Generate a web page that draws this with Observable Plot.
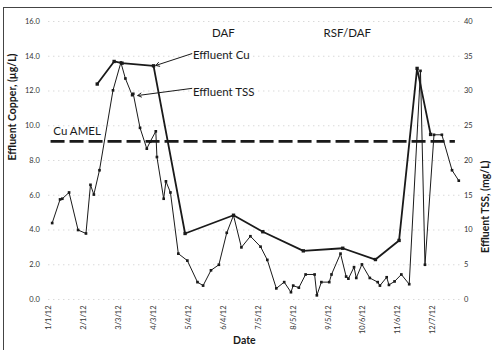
<!DOCTYPE html>
<html>
<head>
<meta charset="utf-8">
<script src="https://cdn.jsdelivr.net/npm/d3@7"></script>
<script src="https://cdn.jsdelivr.net/npm/@observablehq/plot@0.6"></script>
<style>
  html, body { margin: 0; padding: 0; background: #fff; }
  #wrap { position: relative; width: 493px; height: 350px; overflow: hidden; }
  #border { position: absolute; left: 3px; top: 7px; width: 488px; height: 350px;
            border-top: 1px solid #444; border-left: 1px solid #444; pointer-events: none; }
</style>
</head>
<body>
<div id="wrap"><div id="border"></div></div>
<script>
// ---- data ----
const tickLabels = ["1/1/12","2/1/12","3/3/12","4/3/12","5/4/12","6/4/12","7/5/12","8/5/12","9/5/12","10/6/12","11/6/12","12/7/12"];
const copperTicks = [0, 2, 4, 6, 8, 10, 12, 14, 16];

const cuDates = ["2012-02-13","2012-02-28","2012-03-06","2012-04-03","2012-05-01","2012-06-13","2012-07-09","2012-08-14","2012-09-18","2012-10-17","2012-11-07","2012-11-23","2012-12-05"];
const cuValues = [12.4, 13.7, 13.6, 13.45, 3.8, 4.85, 3.9, 2.8, 2.95, 2.3, 3.4, 13.3, 9.5];

const tssDates = ["2012-01-04","2012-01-11","2012-01-13","2012-01-19","2012-01-27","2012-02-03","2012-02-07","2012-02-10","2012-02-15","2012-02-27",
  "2012-03-05","2012-03-09","2012-03-15","2012-03-16","2012-03-22","2012-03-28","2012-03-31","2012-04-05","2012-04-06","2012-04-12",
  "2012-04-14","2012-04-18","2012-04-25","2012-05-03","2012-05-12","2012-05-17","2012-05-24","2012-05-31","2012-06-07","2012-06-13",
  "2012-06-20","2012-06-28","2012-07-07","2012-07-13","2012-07-21","2012-07-28","2012-08-03","2012-08-05","2012-08-10","2012-08-16",
  "2012-08-24","2012-08-26","2012-08-30","2012-09-06","2012-09-08","2012-09-16","2012-09-21","2012-09-23","2012-09-28","2012-09-30",
  "2012-10-05","2012-10-12","2012-10-19","2012-10-21","2012-10-27","2012-10-29","2012-11-03","2012-11-09","2012-11-16","2012-11-26",
  "2012-11-30","2012-12-08","2012-12-15","2012-12-24","2012-12-30"];
const tssValues = [11.0, 14.4, 14.5, 15.4, 10.0, 9.5, 16.5, 15.1, 18.6, 30.1,
  34.1, 31.8, 29.4, 29.6, 24.7, 21.7, 22.7, 24.2, 20.5, 14.5,
  17.0, 15.4, 6.6, 5.6, 2.5, 2.0, 4.2, 5.0, 9.6, 12.1,
  7.5, 9.1, 7.6, 5.7, 1.6, 2.5, 1.05, 2.0, 1.7, 3.6,
  3.6, 0.6, 2.5, 2.5, 3.6, 6.6, 3.3, 3.0, 4.65, 3.1,
  5.05, 3.1, 2.5, 2.0, 3.2, 2.1, 2.6, 3.6, 2.2, 32.9,
  5.0, 23.7, 23.7, 18.6, 17.1];

const cuAmel = 9.1;
const amelRange = ["2012-01-03", "2012-12-27"];

// annotation anchors (date, copper-axis value)
const centerNotes = [
  {text: "DAF", date: "2012-06-04", value: 15.3},
  {text: "RSF/DAF", date: "2012-09-22", value: 15.3}
];
const leftNotes = [
  {text: "Cu AMEL", date: "2012-01-05", value: 9.67},
  {text: "Effluent Cu", date: "2012-05-08", value: 14.05},
  {text: "Effluent TSS", date: "2012-05-08", value: 11.95}
];
const pointers = [
  {from: "2012-05-07", v1: 14.15, to: "2012-04-05", v2: 13.47},
  {from: "2012-05-07", v1: 12.15, to: "2012-03-20", v2: 11.74}
];

// ---- build ----
const parseTick = d3.utcParse("%m/%d/%y");
const ticks = tickLabels.map(parseTick);
const D = s => new Date(s + "T00:00:00Z");
const tssToCu = 16 / 40;

const cu = cuDates.map((d, i) => ({date: D(d), value: cuValues[i]}));
const tss = tssDates.map((d, i) => ({date: D(d), value: tssValues[i]}));
const cNotes = centerNotes.map(n => ({...n, date: D(n.date)}));
const lNotes = leftNotes.map(n => ({...n, date: D(n.date)}));
const ptrData = pointers.map(p => ({...p, from: D(p.from), to: D(p.to)}));

const ink = "#1a1a1a";
const font = "Lato, 'Open Sans', sans-serif";

const chart = Plot.plot({
  width: 493,
  height: 350,
  marginLeft: 48.3,
  marginRight: 33.6,
  marginTop: 21,
  marginBottom: 51,
  style: {fontFamily: font, background: "transparent", overflow: "visible"},
  x: {type: "utc", domain: [D("2012-01-01"), D("2012-12-31")]},
  y: {domain: [0, 16]},
  marks: [
    Plot.gridY(copperTicks, {stroke: "#888", strokeOpacity: 0.45, strokeDasharray: "1,4"}),
    Plot.axisY({anchor: "left", ticks: copperTicks, tickFormat: d3.format(".1f"), tickSize: 0, tickPadding: 9,
      fontSize: 7.5, fill: "#333", label: null}),
    Plot.axisY({anchor: "right", ticks: copperTicks, tickFormat: d => String(d / tssToCu), tickSize: 0, tickPadding: 4,
      fontSize: 7.5, fill: "#333", label: null}),
    Plot.axisX({ticks: ticks, tickFormat: d3.utcFormat("%-m/%-d/%y"), tickRotate: -90, tickSize: 0, tickPadding: 6,
      fontSize: 7.5, fill: "#333", label: null}),
    Plot.text(["Effluent Copper, (\u00b5g/L)"], {frameAnchor: "left", dx: -36, rotate: -90, fontWeight: "bold", fontSize: 10.5, fill: ink}),
    Plot.text(["Effluent TSS, (mg/L)"], {frameAnchor: "right", dx: 26, rotate: -90, fontWeight: "bold", fontSize: 10.5, fill: ink}),
    Plot.text(["Date"], {frameAnchor: "bottom", dx: -10, dy: 44, fontWeight: "bold", fontSize: 10.5, fill: ink}),
    Plot.ruleY([cuAmel], {x1: D(amelRange[0]), x2: D(amelRange[1]), stroke: ink, strokeWidth: 2.8, strokeDasharray: "14,5"}),
    Plot.line(tss, {x: "date", y: d => d.value * tssToCu, stroke: ink, strokeWidth: 1}),
    Plot.dot(tss, {x: "date", y: d => d.value * tssToCu, r: 1.5, fill: ink, symbol: "square"}),
    Plot.line(cu, {x: "date", y: "value", stroke: ink, strokeWidth: 1.8}),
    Plot.dot(cu, {x: "date", y: "value", r: 1.9, fill: ink, symbol: "square"}),
    Plot.text(cNotes, {x: "date", y: "value", text: "text", textAnchor: "middle", fontSize: 11.5, fill: ink}),
    Plot.text(lNotes, {x: "date", y: "value", text: "text", textAnchor: "start", fontSize: 11.5, fill: ink}),
    Plot.arrow(ptrData, {x1: "from", y1: "v1", x2: "to", y2: "v2", stroke: ink, strokeWidth: 1, headLength: 6})
  ]
});

document.getElementById("wrap").appendChild(chart);
chart.style.position = "absolute";
chart.style.left = "0";
chart.style.top = "0";
</script>
</body>
</html>
